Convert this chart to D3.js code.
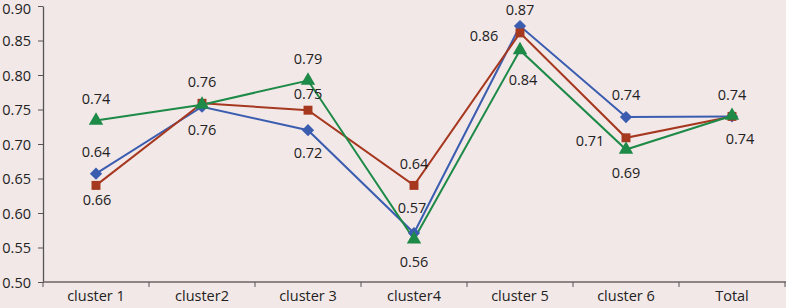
<!DOCTYPE html>
<html><head><meta charset="utf-8">
<script src="https://cdn.jsdelivr.net/npm/d3@7"></script>
<style>
html,body{margin:0;padding:0;background:#f3e8e8;}
svg{display:block;}
text{font-family:"Open Sans","Lato",sans-serif;fill:#222;}
</style></head><body>
<svg id="chart" width="786" height="308"></svg>
<script>
const categories = ["cluster 1","cluster2","cluster 3","cluster4","cluster 5","cluster 6","Total"];
const yTicks = [0.50,0.55,0.60,0.65,0.70,0.75,0.80,0.85,0.90];
const seriesBlue  = [0.657,0.754,0.720,0.571,0.871,0.739,0.740];
const seriesRed   = [0.640,0.759,0.749,0.640,0.861,0.709,0.740];
const seriesGreen = [0.734,0.757,0.792,0.562,0.836,0.692,0.741];
const labelsBlue  = ["0.64","0.76","0.72","0.57","0.87","0.74","0.74"];
const labelsRed   = ["0.66","0.76","0.75","0.64","0.86","0.71","0.74"];
const labelsGreen = ["0.74",null,"0.79","0.56","0.84","0.69",null];
const placeBlue   = ["t","b","b","tt","ts","t","t"];
const placeRed    = ["bs","t","ts","t","l","l","br"];
const placeGreen  = ["t",null,"t","b","bb","b",null];

const FS = 14.5;
const svg = d3.select("#chart");
const W = 786, H = 308;
svg.append("rect").attr("width",W).attr("height",H).attr("fill","#f3e8e8");

const x = d3.scaleBand().domain(categories).range([43,785]);
const y = d3.scaleLinear().domain([0.5,0.9]).range([282,6]);

// y axis
const yAxis = svg.append("g").attr("transform","translate(43,0)")
  .call(d3.axisLeft(y).tickValues(yTicks).tickFormat(d3.format(".2f")).tickSize(5).tickSizeOuter(0));
yAxis.select(".domain").attr("stroke","#555").attr("stroke-width",1.3);
yAxis.selectAll(".tick line").attr("stroke","#555");
yAxis.selectAll("text").attr("font-size",FS).attr("x",-12)
  .attr("dy",d => d === 0.9 ? "0.5em" : "0.36em")
  .style("font-family",'"Open Sans",sans-serif').attr("fill","#222");

// x axis
const xg = svg.append("g").attr("transform","translate(0,282)");
xg.append("line").attr("x1",43).attr("x2",786).attr("stroke","#6e6262").attr("stroke-width",1.6);
const bounds = categories.map(c => x(c)).concat([x(categories[categories.length-1]) + x.bandwidth()]);
xg.selectAll(".xt").data(bounds).join("line")
  .attr("x1",d=>d).attr("x2",d=>d).attr("y1",0).attr("y2",5).attr("stroke","#555");
xg.selectAll(".xl").data(categories).join("text")
  .attr("x",d=>x(d)+x.bandwidth()/2).attr("y",19).attr("text-anchor","middle")
  .attr("font-size",FS).text(d=>d);

const cx = c => x(c) + x.bandwidth()/2;
const series = [
  {vals:seriesBlue, color:"#3b5db0", shape:d3.symbolSquare, rot:45, size:75, labels:labelsBlue, place:placeBlue},
  {vals:seriesRed, color:"#a5381f", shape:d3.symbolSquare, rot:0, size:80, labels:labelsRed, place:placeRed},
  {vals:seriesGreen, color:"#1d8a47", shape:d3.symbolTriangle, rot:0, size:90, labels:labelsGreen, place:placeGreen}
];
const line = d3.line().x((d,i)=>cx(categories[i])).y(d=>y(d));
series.forEach(s=>{
  svg.append("path").attr("d",line(s.vals)).attr("fill","none").attr("stroke",s.color).attr("stroke-width",2);
});
series.forEach(s=>{
  svg.selectAll(null).data(s.vals).join("path")
    .attr("transform",(d,i)=>`translate(${cx(categories[i])},${y(d)}) rotate(${s.rot})`)
    .attr("d",d3.symbol().type(s.shape).size(s.size)).attr("fill",s.color);
});
const off = {t:[0,-22], ts:[0,-16], tt:[-2,-25], b:[0,23], bs:[1,14], bb:[3,30], l:[-36,3], br:[8,22]};
series.forEach(s=>{
  s.vals.forEach((v,i)=>{
    if(!s.labels[i]) return;
    const o = off[s.place[i]];
    svg.append("text").attr("x",cx(categories[i])+o[0]).attr("y",y(v)+o[1])
      .attr("dy","0.36em").attr("text-anchor","middle").attr("font-size",FS).text(s.labels[i]);
  });
});
</script></body></html>
